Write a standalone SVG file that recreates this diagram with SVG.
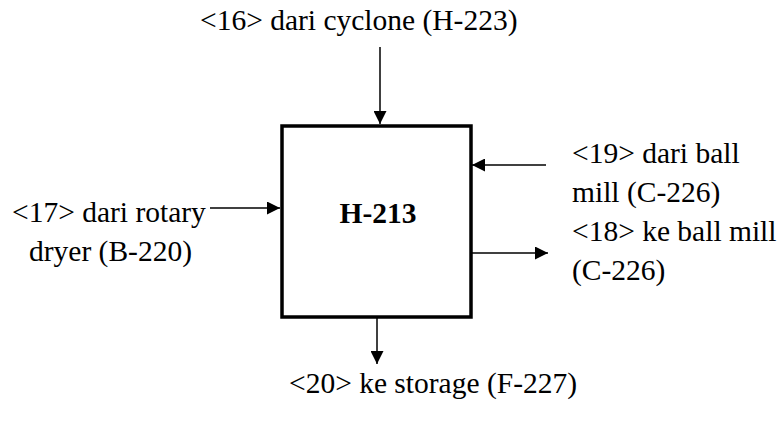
<svg xmlns="http://www.w3.org/2000/svg" width="779" height="421" viewBox="0 0 779 421">
<defs>
<marker id="ah" viewBox="0 0 10 10" refX="10" refY="5" markerWidth="13" markerHeight="13" markerUnits="userSpaceOnUse" orient="auto"><path d="M0,0 L10,5 L0,10 Z" fill="#000"/></marker>
<style>
.c{stroke:#000;stroke-width:1.5;fill:none;marker-end:url(#ah)}
</style>
</defs>
<rect width="779" height="421" fill="#fff"/>
<g font-family="'Liberation Serif', 'Times New Roman', 'DejaVu Serif', serif" font-size="29.5" fill="#000">
<g id="H-213">
<rect x="282" y="126" width="189" height="191" fill="#fff" stroke="#000" stroke-width="3.5"/>
<text x="378" y="223" text-anchor="middle" font-weight="bold">H-213</text>
</g>
<g id="s16"><text x="200" y="30">&lt;16&gt; dari cyclone (H-223)</text></g>
<g id="s17"><text x="12" y="222">&lt;17&gt; dari rotary</text><text x="29" y="261">dryer (B-220)</text></g>
<g id="s19"><text x="572" y="163">&lt;19&gt; dari ball</text><text x="572" y="202">mill (C-226)</text></g>
<g id="s18"><text x="572" y="241">&lt;18&gt; ke ball mill</text><text x="572" y="280">(C-226)</text></g>
<g id="s20"><text x="289" y="393">&lt;20&gt; ke storage (F-227)</text></g>
</g>
<g id="connectors">
<line class="c" x1="380" y1="47" x2="380" y2="124"/>
<line class="c" x1="210" y1="208" x2="280" y2="208"/>
<line class="c" x1="546" y1="165" x2="472" y2="165"/>
<line class="c" x1="472" y1="253" x2="548" y2="253"/>
<line class="c" x1="377" y1="318" x2="377" y2="364"/>
</g>
</svg>
